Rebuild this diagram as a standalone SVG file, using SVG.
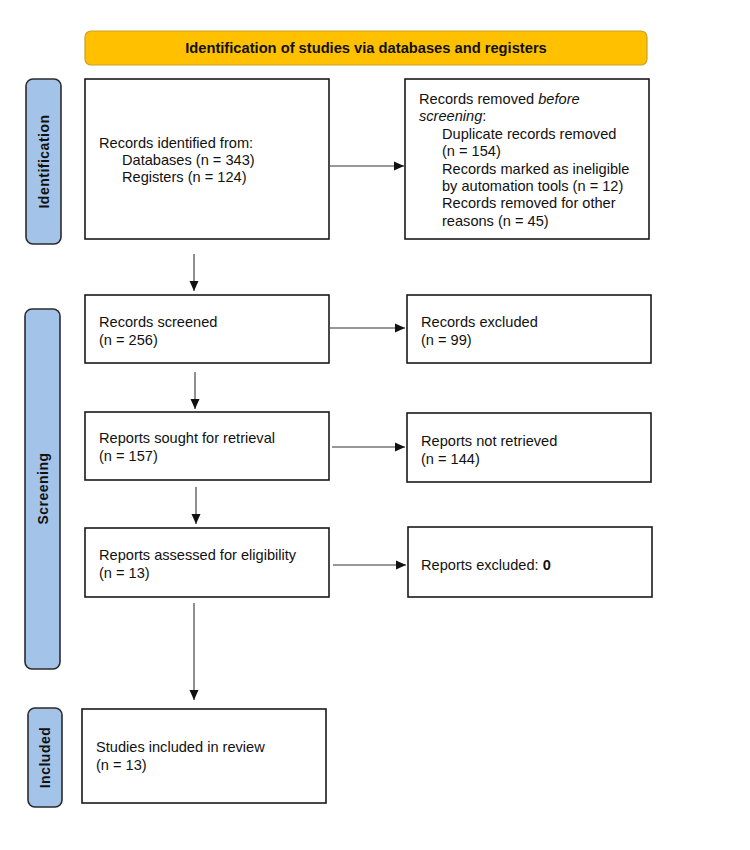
<svg xmlns="http://www.w3.org/2000/svg" width="750" height="850" viewBox="0 0 750 850">
  <style>
    .box { fill: #ffffff; stroke: #1a1a1a; stroke-width: 1.6; }
    .side { fill: #a3c4e8; stroke: #2b2b2b; stroke-width: 1.6; }
    .hdr { fill: #ffc000; stroke: #c9a227; stroke-width: 1.2; }
    .t { font-family: "Liberation Sans", Arial, sans-serif; font-size: 14.6px; fill: #111; }
    .hdrt { font-family: "Liberation Sans", Arial, sans-serif; font-size: 14.7px; font-weight: bold; fill: #111; }
    .sidet { font-family: "Liberation Sans", Arial, sans-serif; font-size: 14px; font-weight: bold; fill: #111; letter-spacing: 0.5px; }
    .conn { stroke: #333; stroke-width: 1.1; fill: none; marker-end: url(#arrow); }
  </style>
  <defs>
    <marker id="arrow" markerUnits="userSpaceOnUse" markerWidth="11" markerHeight="10" refX="10" refY="5" orient="auto">
      <path d="M0,0.5 L10,5 L0,9.5 z" fill="#111"/>
    </marker>
  </defs>
  <rect width="750" height="850" fill="#ffffff"/>

  <g id="header">
    <rect class="hdr" x="85" y="31" width="562" height="34" rx="6"/>
    <text class="hdrt" x="366" y="53" text-anchor="middle">Identification of studies via databases and registers</text>
  </g>

  <g id="side-identification">
    <rect class="side" x="26" y="79" width="35" height="165" rx="7"/>
    <text class="sidet" transform="translate(48.5,161.5) rotate(-90)" text-anchor="middle">Identification</text>
  </g>
  <g id="side-screening">
    <rect class="side" x="25" y="309" width="35" height="360" rx="7"/>
    <text class="sidet" transform="translate(47.5,488.5) rotate(-90)" text-anchor="middle">Screening</text>
  </g>
  <g id="side-included">
    <rect class="side" x="28" y="708" width="34" height="99" rx="7"/>
    <text class="sidet" transform="translate(50,757.5) rotate(-90)" text-anchor="middle">Included</text>
  </g>

  <g id="records-identified">
    <rect class="box" x="85" y="79" width="244" height="160"/>
    <text class="t" x="99" y="148">Records identified from:</text>
    <text class="t" x="122" y="165">Databases (n = 343)</text>
    <text class="t" x="122" y="182">Registers (n = 124)</text>
  </g>

  <g id="records-removed">
    <rect class="box" x="405" y="79" width="244" height="160"/>
    <text class="t" x="419" y="104">Records removed <tspan font-style="italic">before</tspan></text>
    <text class="t" x="419" y="121.4"><tspan font-style="italic">screening</tspan>:</text>
    <text class="t" x="442" y="138.8">Duplicate records removed</text>
    <text class="t" x="442" y="156.2">(n = 154)</text>
    <text class="t" x="442" y="173.6">Records marked as ineligible</text>
    <text class="t" x="442" y="191">by automation tools (n = 12)</text>
    <text class="t" x="442" y="208.4">Records removed for other</text>
    <text class="t" x="442" y="225.8">reasons (n = 45)</text>
  </g>

  <g id="records-screened">
    <rect class="box" x="85" y="295" width="244" height="68"/>
    <text class="t" x="99" y="327">Records screened</text>
    <text class="t" x="99" y="345">(n = 256)</text>
  </g>

  <g id="records-excluded">
    <rect class="box" x="407" y="295" width="244" height="68"/>
    <text class="t" x="421" y="327">Records excluded</text>
    <text class="t" x="421" y="345">(n = 99)</text>
  </g>

  <g id="reports-sought">
    <rect class="box" x="85" y="412" width="244" height="68"/>
    <text class="t" x="99" y="443">Reports sought for retrieval</text>
    <text class="t" x="99" y="461">(n = 157)</text>
  </g>

  <g id="reports-not-retrieved">
    <rect class="box" x="407" y="413" width="244" height="69"/>
    <text class="t" x="421" y="446">Reports not retrieved</text>
    <text class="t" x="421" y="464">(n = 144)</text>
  </g>

  <g id="reports-assessed">
    <rect class="box" x="85" y="528" width="244" height="69"/>
    <text class="t" x="99" y="560">Reports assessed for eligibility</text>
    <text class="t" x="99" y="578">(n = 13)</text>
  </g>

  <g id="reports-excluded">
    <rect class="box" x="408" y="527" width="244" height="70"/>
    <text class="t" x="421" y="570">Reports excluded: <tspan font-weight="bold">0</tspan></text>
  </g>

  <g id="studies-included">
    <rect class="box" x="82" y="709" width="244" height="94"/>
    <text class="t" x="96" y="752">Studies included in review</text>
    <text class="t" x="96" y="770">(n = 13)</text>
  </g>

  <g id="connectors">
    <line class="conn" x1="330" y1="166" x2="404" y2="166"/>
    <line class="conn" x1="194" y1="254" x2="194" y2="291"/>
    <line class="conn" x1="330" y1="328" x2="405" y2="328"/>
    <line class="conn" x1="195" y1="372" x2="195" y2="409"/>
    <line class="conn" x1="332" y1="447" x2="405" y2="447"/>
    <line class="conn" x1="196" y1="487" x2="196" y2="524"/>
    <line class="conn" x1="333" y1="565" x2="406" y2="565"/>
    <line class="conn" x1="194" y1="603" x2="194" y2="700"/>
  </g>
</svg>
